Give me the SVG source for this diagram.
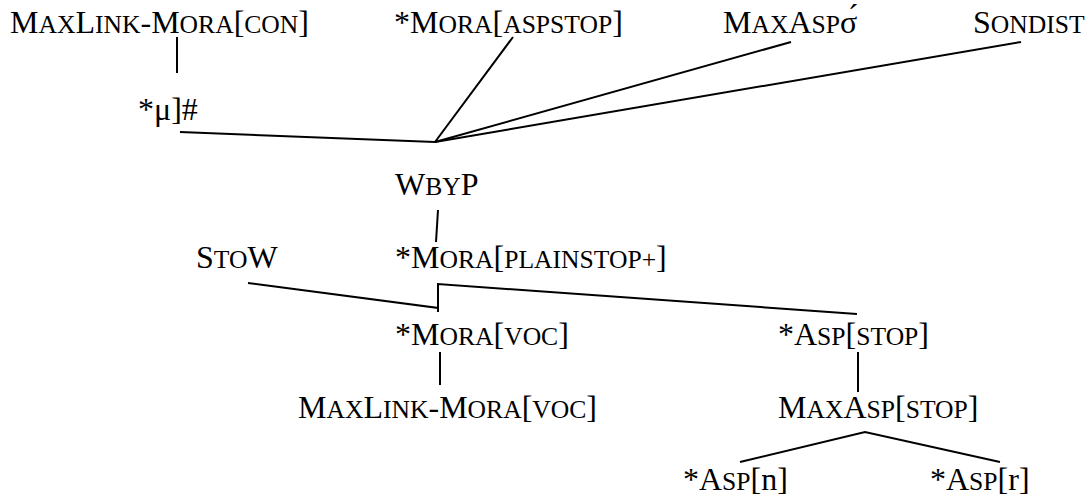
<svg xmlns="http://www.w3.org/2000/svg" width="1089" height="498" viewBox="0 0 1089 498">
<style>
text{font-family:"Liberation Serif","Times New Roman",serif;font-size:32px;fill:#000}
.s{font-size:25.6px}
.c line,.c polyline{stroke:#000;stroke-width:2;fill:none}
</style>
<rect width="1089" height="498" fill="#fff"/>
<g class="c" id="connectors">
<line x1="177" y1="37" x2="177" y2="73"/>
<line x1="180" y1="132" x2="435" y2="142"/>
<line x1="513" y1="37" x2="435" y2="142"/>
<line x1="791" y1="42" x2="435" y2="142"/>
<line x1="1021" y1="42" x2="435" y2="142"/>
<line x1="438" y1="210" x2="436" y2="242"/>
<polyline points="248,283 438,308 438,312 438,284 857,314"/>
<line x1="440" y1="352" x2="440" y2="385"/>
<line x1="858" y1="352" x2="858" y2="392"/>
<polyline points="740,462 865,432 1000,462"/>
</g>
<g id="maxlink-con"><text x="10" y="33">M<tspan class="s">AX</tspan>L<tspan class="s">INK</tspan>-M<tspan class="s">ORA</tspan>[<tspan class="s">CON</tspan>]</text></g>
<g id="mu"><text x="138" y="120">*μ]#</text></g>
<g id="mora-aspstop"><text x="394" y="33">*M<tspan class="s">ORA</tspan>[<tspan class="s">ASPSTOP</tspan>]</text></g>
<g id="maxasp-sigma"><text x="723" y="33">M<tspan class="s">AX</tspan>A<tspan class="s">SP</tspan>σ́</text></g>
<g id="sondist"><text x="973" y="33">S<tspan class="s">ONDIST</tspan></text></g>
<g id="wbyp"><text x="395" y="195">W<tspan class="s">BY</tspan>P</text></g>
<g id="stow"><text x="196" y="268">S<tspan class="s">TO</tspan>W</text></g>
<g id="mora-plainstop"><text x="395" y="268">*M<tspan class="s">ORA</tspan>[<tspan class="s">PLAINSTOP+</tspan>]</text></g>
<g id="mora-voc"><text x="395" y="345">*M<tspan class="s">ORA</tspan>[<tspan class="s">VOC</tspan>]</text></g>
<g id="asp-stop"><text x="778" y="345">*A<tspan class="s">SP</tspan>[<tspan class="s">STOP</tspan>]</text></g>
<g id="maxlink-voc"><text x="298" y="418">M<tspan class="s">AX</tspan>L<tspan class="s">INK</tspan>-M<tspan class="s">ORA</tspan>[<tspan class="s">VOC</tspan>]</text></g>
<g id="maxasp-stop"><text x="778" y="418">M<tspan class="s">AX</tspan>A<tspan class="s">SP</tspan>[<tspan class="s">STOP</tspan>]</text></g>
<g id="asp-n"><text x="683" y="490">*A<tspan class="s">SP</tspan>[n]</text></g>
<g id="asp-r"><text x="930" y="490">*A<tspan class="s">SP</tspan>[r]</text></g>
</svg>
